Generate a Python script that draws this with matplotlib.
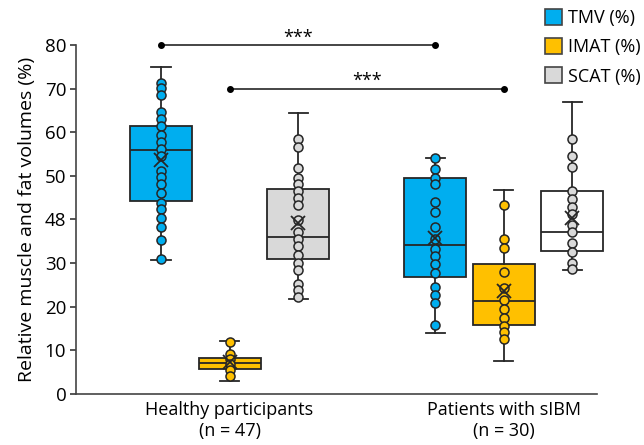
import matplotlib
matplotlib.use("Agg")
import matplotlib.pyplot as plt
from matplotlib.patches import Patch

plt.rcParams["font.family"] = ["Open Sans", "DejaVu Sans"]

groups = ["Healthy participants\n(n = 47)", "Patients with sIBM\n(n = 30)"]
measures = ["TMV (%)", "IMAT (%)", "SCAT (%)"]

# box summaries: whislo, q1, med, q3, whishi, mean
healthy_tmv_box = [30.7, 44.3, 55.9, 61.4, 75.0, 53.6]
healthy_imat_box = [3.0, 5.7, 7.0, 8.3, 12.0, 7.2]
healthy_scat_box = [21.7, 30.9, 36.0, 47.0, 64.5, 39.1]
sibm_tmv_box = [13.9, 26.9, 34.2, 49.4, 54.0, 35.7]
sibm_imat_box = [7.6, 15.8, 21.2, 29.8, 46.8, 23.5]
sibm_scat_box = [28.3, 32.8, 37.0, 46.5, 66.9, 40.3]

# individual points (visible ones)
healthy_tmv_pts = [71.2, 70.1, 68.5, 64.7, 63.0, 61.4, 59.4, 57.7, 56.1, 54.5,
                   51.2, 49.7, 48.1, 46.1, 43.7, 42.3, 40.3, 38.2, 35.3, 30.9]
healthy_imat_pts = [11.8, 9.2, 8.0, 6.9, 5.5, 4.0]
healthy_scat_pts = [58.4, 56.7, 51.7, 49.6, 48.1, 46.5, 44.9, 43.2, 39.9, 37.2,
                    35.5, 33.9, 31.9, 30.1, 28.4, 25.2, 23.7, 22.3]
sibm_tmv_pts = [54.0, 51.6, 49.6, 48.1, 43.9, 41.8, 38.3, 35.5, 33.2, 31.5,
                29.8, 27.7, 24.5, 22.6, 20.8, 15.7]
sibm_imat_pts = [43.2, 35.5, 33.4, 28.0, 24.2, 21.5, 19.4, 17.4, 15.6, 14.1, 12.6]
sibm_scat_pts = [58.4, 54.6, 52.0, 46.4, 44.6, 42.9, 41.3, 38.7, 37.0, 34.5,
                 32.6, 30.1, 28.7]

yticks = [0, 10, 20, 30, 40, 50, 60, 70, 80]
ytick_labels = ["0", "10", "20", "30", "48", "50", "60", "70", "80"]

blue = "#00AEEF"
gold = "#FFC000"
grey = "#D9D9D9"
edge = "#262626"

boxes = [healthy_tmv_box, healthy_imat_box, healthy_scat_box,
         sibm_tmv_box, sibm_imat_box, sibm_scat_box]
points = [healthy_tmv_pts, healthy_imat_pts, healthy_scat_pts,
          sibm_tmv_pts, sibm_imat_pts, sibm_scat_pts]
box_colors = [blue, gold, grey, blue, gold, "white"]
pt_colors = [blue, gold, grey, blue, gold, grey]
offsets = [-0.25, 0.0, 0.25]
positions = [g + o for g in (1, 2) for o in offsets]

fig = plt.figure(figsize=(6.44, 4.45), dpi=100)
ax = fig.add_axes([0.118, 0.115, 0.809, 0.784])

stats = []
for b in boxes:
    stats.append(dict(whislo=b[0], q1=b[1], med=b[2], q3=b[3], whishi=b[4],
                      mean=b[5], fliers=[]))

bp = ax.bxp(stats, positions=positions, widths=0.226, capwidths=0.07,
            patch_artist=True, showmeans=True,
            boxprops=dict(edgecolor=edge, linewidth=1.3),
            medianprops=dict(color=edge, linewidth=1.3),
            whiskerprops=dict(color=edge, linewidth=1.3),
            capprops=dict(color=edge, linewidth=1.3),
            meanprops=dict(marker="x", markersize=10, markeredgecolor=edge,
                           markeredgewidth=1.3, zorder=5))
for patch, c in zip(bp["boxes"], box_colors):
    patch.set_facecolor(c)
for key in bp:
    for artist in bp[key]:
        artist.set_clip_on(False)

for x, pts, c in zip(positions, points, pt_colors):
    ax.plot([x] * len(pts), pts, "o", color=c, markeredgecolor=edge,
            markersize=6.5, markeredgewidth=1.1, zorder=4, clip_on=False)

# significance brackets
sig = [(positions[0], positions[3], 80), (positions[1], positions[4], 70)]
for x1, x2, y in sig:
    ax.plot([x1, x2], [y, y], "-", color=edge, lw=1.2, clip_on=False)
    ax.plot([x1, x2], [y, y], "o", color="black", markersize=4, clip_on=False)
    ax.text((x1 + x2) / 2, y - 0.4, "***", ha="center", va="bottom",
            fontsize=13, color="black")

ax.set_xlim(0.44, 2.34)
ax.set_ylim(0, 80)
ax.set_yticks(yticks)
ax.set_yticklabels(ytick_labels, fontsize=13.5)
ax.set_xticks([1, 2])
ax.set_xticklabels(groups, fontsize=13)
ax.tick_params(axis="x", length=0, pad=5)
ax.tick_params(axis="y", length=4, width=1.1, color=edge, pad=3)
ax.set_ylabel("Relative muscle and fat volumes (%)", fontsize=14, labelpad=6)
for s in ["top", "right"]:
    ax.spines[s].set_visible(False)
for s in ["left", "bottom"]:
    ax.spines[s].set_color("#444444")
    ax.spines[s].set_linewidth(1.2)

handles = [Patch(facecolor=c, edgecolor="#444444", linewidth=1.2)
           for c in (blue, gold, grey)]
fig.legend(handles, measures, loc="upper left", bbox_to_anchor=(0.826, 1.008),
           frameon=False, fontsize=13, handlelength=0.95, handleheight=1.0,
           handletextpad=0.35, labelspacing=0.6, borderaxespad=0.3)

fig.savefig("out.png", dpi=100)
